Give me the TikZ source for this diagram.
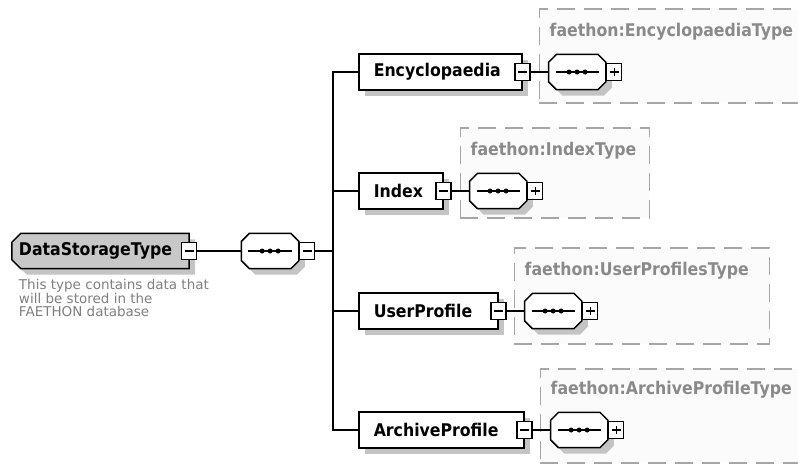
\documentclass[tikz,border=0pt]{standalone}
\usepackage{fontspec}
\newfontfamily\lblfont[FakeStretch=0.9]{DejaVu Sans}
\newfontfamily\descfont{DejaVu Sans}
\usepackage{xcolor}
\usepackage{tikz}
\usetikzlibrary{shapes,shadows,backgrounds}

\definecolor{shadowgray}{HTML}{C4C4C4}
\definecolor{rootgray}{HTML}{C8C8C8}
\definecolor{framegray}{HTML}{A6A6A6}
\definecolor{typegray}{HTML}{8A8A8A}
\definecolor{descgray}{HTML}{7F7F7F}
\definecolor{framefill}{HTML}{FBFBFB}

\tikzset{
  shade6/.style={drop shadow={shadow xshift=6pt, shadow yshift=-6pt, fill=shadowgray, opacity=1}},
  lbl/.style={font=\lblfont\bfseries\fontsize{17.5}{20}\selectfont},
  elem/.style={rectangle, draw, line width=1.5pt, fill=white, anchor=west,
    minimum height=36pt, inner xsep=15pt, inner ysep=0pt, lbl, shade6},
  rootelem/.style={rectangle, minimum width=177pt, minimum height=35pt, inner sep=0pt, lbl},
  seqbase/.style={rectangle, minimum width=57pt, minimum height=35pt, inner sep=0pt, anchor=west},
  outl/.style={draw, line width=1.5pt},
  pmbox/.style={rectangle, draw, line width=1.5pt, fill=white, minimum width=15pt,
    minimum height=17pt, inner sep=0pt},
  mbox/.style={pmbox, path picture={
      \draw[line width=1.2pt] ([xshift=3pt]path picture bounding box.west) -- ([xshift=-3pt]path picture bounding box.east);}},
  pbox/.style={pmbox, anchor=west, path picture={
      \draw[line width=1.2pt] ([xshift=3pt]path picture bounding box.west) -- ([xshift=-3pt]path picture bounding box.east)
        ([yshift=4pt]path picture bounding box.center) -- ([yshift=-4pt]path picture bounding box.center);}},
  frame/.style={rectangle, draw=framegray, dash pattern=on 18pt off 9pt, line width=1.5pt,
    fill=framefill, anchor=north west, inner sep=0pt},
  tname/.style={anchor=west, text=typegray, inner sep=0pt, lbl},
  conn/.style={line width=1.5pt}
}

% sequence compositor: name, west point
\newcommand\seqnode[2]{%
  \node[seqbase] (#1) at (#2) {};
  \begin{pgfonlayer}{background}
  \fill[shadowgray, transform canvas={shift={(6pt,-6pt)}}]
    ([xshift=8pt]#1.north west) -- ([xshift=-8pt]#1.north east) -- ([yshift=-8pt]#1.north east)
    -- ([yshift=8pt]#1.south east) -- ([xshift=-8pt]#1.south east) -- ([xshift=8pt]#1.south west)
    -- ([yshift=8pt]#1.south west) -- ([yshift=-8pt]#1.north west) -- cycle;
  \draw[outl, fill=white]
    ([xshift=8pt]#1.north west) -- ([xshift=-8pt]#1.north east) -- ([yshift=-8pt]#1.north east)
    -- ([yshift=8pt]#1.south east) -- ([xshift=-8pt]#1.south east) -- ([xshift=8pt]#1.south west)
    -- ([yshift=8pt]#1.south west) -- ([yshift=-8pt]#1.north west) -- cycle;
  \draw[line width=1.5pt] ([xshift=7pt]#1.west) -- ([xshift=-7pt]#1.east);
  \foreach \d in {-8,0,8} \fill[black] ([xshift=\d pt]#1.center) circle (2.5pt);
  \end{pgfonlayer}}

\begin{document}
\begin{tikzpicture}[x=1pt, y=-1pt]
\useasboundingbox (0,0) rectangle (798,467);

 \node[elem] (b1) at (358,72) {\makebox[133pt][l]{Encyclopaedia}};
 \node[elem] (b2) at (358,191) {\makebox[54pt][l]{Index}};
 \node[elem] (b3) at (358,311) {\makebox[109pt][l]{UserProfile}};
 \node[elem] (b4) at (358,430) {\makebox[135pt][l]{ArchiveProfile}};

 \begin{pgfonlayer}{background}
 \node[frame, minimum width=268pt, minimum height=94pt] (t1) at ([xshift=16pt, yshift=64pt]b1.east) {};
 \node[frame, minimum width=189pt, minimum height=90pt] (t2) at ([xshift=16pt, yshift=64pt]b2.east) {};
 \node[frame, minimum width=255pt, minimum height=96pt] (t3) at ([xshift=15pt, yshift=64pt]b3.east) {};
 \node[frame, minimum width=268pt, minimum height=94pt] (t4) at ([xshift=15pt, yshift=62pt]b4.east) {};
 \end{pgfonlayer}

 \node[tname] (n1) at ([xshift=11pt, yshift=-24pt]t1.north west) {faethon:EncyclopaediaType};
 \node[tname] (n2) at ([xshift=11pt, yshift=-24pt]t2.north west) {faethon:IndexType};
 \node[tname] (n3) at ([xshift=11pt, yshift=-24pt]t3.north west) {faethon:UserProfilesType};
 \node[tname] (n4) at ([xshift=11pt, yshift=-22pt]t4.north west) {faethon:ArchiveProfileType};

 \foreach \i in {1,...,4} {
   \seqnode{s\i}{[xshift=26pt]b\i.east}
   \node[pbox] (p\i) at (s\i.east) {};
   \node[mbox] (m\i) at (b\i.east) {};
   \draw[conn] (m\i) -- (s\i);
 }

 \node[rootelem] (r0) at (100.5,251) {\makebox[163pt][l]{DataStorageType}};
 \begin{pgfonlayer}{background}
 \fill[shadowgray, transform canvas={shift={(6pt,-6pt)}}]
   ([xshift=9pt]r0.north west) -- (r0.north east) -- (r0.south east) -- ([xshift=9pt]r0.south west)
   -- ([yshift=9pt]r0.south west) -- ([yshift=-9pt]r0.north west) -- cycle;
 \draw[outl, fill=rootgray]
   ([xshift=9pt]r0.north west) -- (r0.north east) -- (r0.south east) -- ([xshift=9pt]r0.south west)
   -- ([yshift=9pt]r0.south west) -- ([yshift=-9pt]r0.north west) -- cycle;
 \end{pgfonlayer}
 \node[mbox] (rm) at (r0.east) {};
 \seqnode{rs}{[xshift=44pt]rm.east}
 \node[mbox, anchor=west] (rsm) at (rs.east) {};
 \coordinate (bus) at (333,251);

 \node[anchor=north west, align=left, inner sep=0pt, text=descgray,
   font=\descfont\fontsize{13.5}{13}\selectfont] (desc) at ([xshift=7pt, yshift=-10pt]r0.south west)
   {This type contains data that\\will be stored in the\\FAETHON database};

 \draw[conn] (rm) -- (rs);
 \draw[conn] (rsm) -- (bus);
 \draw[conn] (b1.west) -- (b1.west -| bus) -- (b4.west -| bus) -- (b4.west);
 \draw[conn] (b2.west) -- (b2.west -| bus);
 \draw[conn] (b3.west) -- (b3.west -| bus);

\end{tikzpicture}
\end{document}
